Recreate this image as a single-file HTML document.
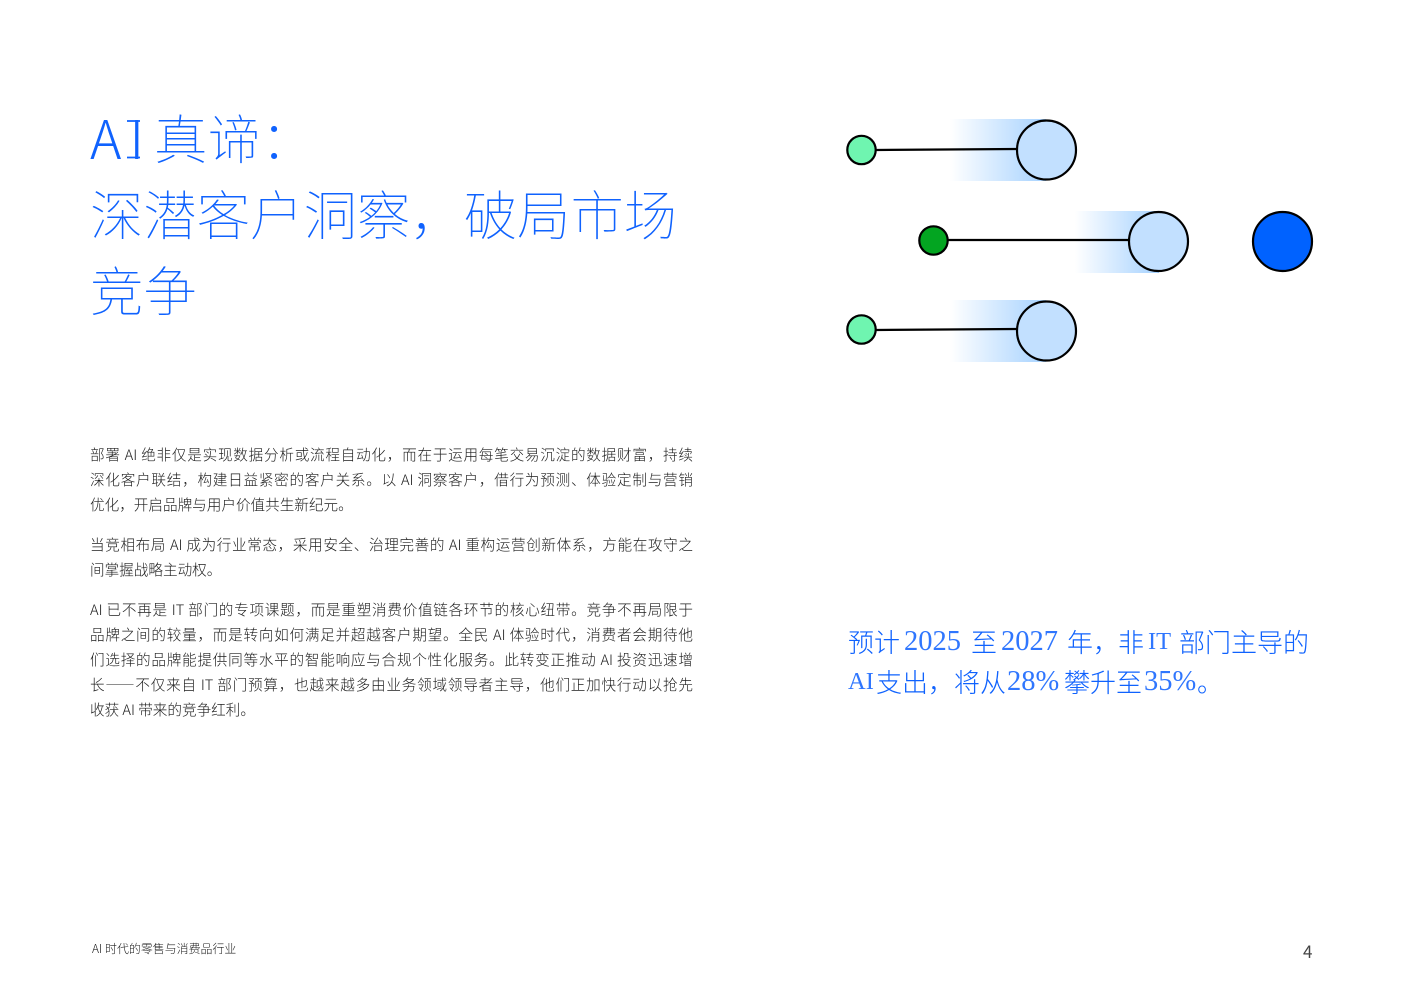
<!DOCTYPE html>
<html lang="zh"><head><meta charset="utf-8">
<style>
html,body{margin:0;padding:0;background:#fff}
#p{position:relative;width:1403px;height:992px;overflow:hidden;background:#fff;font-family:"Noto Sans CJK SC","Liberation Sans",sans-serif}
.t{position:absolute;left:90px;font-size:53.4px;line-height:76px;height:76px;color:#0f62fe;font-weight:100;white-space:nowrap}
.b{position:absolute;left:90px;width:603px;font-size:14.6px;line-height:25px;height:25px;color:#1c1c1c;font-weight:300;white-space:nowrap;text-align:justify;text-align-last:justify}
.l{text-align-last:left}
.c{position:absolute;font-size:26px;line-height:40px;height:40px;color:#0f62fe;font-weight:300;white-space:nowrap}
.s{font-family:"Liberation Serif",serif;font-weight:400;color:#2f76fe;font-size:24.500px}
.n{font-size:28.500px}
svg{position:absolute;left:0;top:0}
</style></head><body><div id="p">
<svg width="1403" height="992" viewBox="0 0 1403 992">
<defs><linearGradient id="g" x1="0" x2="1" y1="0" y2="0"><stop offset="0" stop-color="#fff"/><stop offset="1" stop-color="#a6d2ff"/></linearGradient></defs>
<rect x="950" y="119" width="96" height="62" fill="url(#g)"/>
<rect x="1075" y="211" width="84" height="62" fill="url(#g)"/>
<rect x="950" y="300" width="96" height="62" fill="url(#g)"/>
<g stroke="#000" stroke-width="2.200" fill="none">
<path d="M876 150L1017 149"/><path d="M948 240H1129"/><path d="M876 330L1017 329"/>
<circle cx="861.500" cy="150" r="14.200" fill="#6ff5b0"/>
<circle cx="1046.500" cy="150" r="29.500" fill="#c2e0ff"/>
<circle cx="933.500" cy="240.500" r="14.200" fill="#03a521"/>
<circle cx="1158.500" cy="241.500" r="29.500" fill="#c2e0ff"/>
<circle cx="1282.500" cy="241.500" r="29.500" fill="#0062ff"/>
<circle cx="861.500" cy="329.500" r="14.200" fill="#6ff5b0"/>
<circle cx="1046.500" cy="331" r="29.500" fill="#c2e0ff"/>
</g>
<path d="M127 121H140M127 157.500H140" stroke="#0f62fe" stroke-width="1.800" fill="none"/>
</svg>
<div class="t" style="top:99px;font-weight:300">A</div>
<div class="t" style="top:99px;left:129.500px;font-weight:300">I</div>
<div class="t" style="top:99px;left:154px">真谛：</div>
<div class="t" style="top:175px">深潜客户洞察，破局市场</div>
<div class="t" style="top:251px">竞争</div>
<div class="b" style="top:442px">部署 AI 绝非仅是实现数据分析或流程自动化，而在于运用每笔交易沉淀的数据财富，持续</div>
<div class="b" style="top:467px">深化客户联结，构建日益紧密的客户关系。以 AI 洞察客户，借行为预测、体验定制与营销</div>
<div class="b l" style="top:492px">优化，开启品牌与用户价值共生新纪元。</div>
<div class="b" style="top:532px">当竞相布局 AI 成为行业常态，采用安全、治理完善的 AI 重构运营创新体系，方能在攻守之</div>
<div class="b l" style="top:557px">间掌握战略主动权。</div>
<div class="b" style="top:597px">AI 已不再是 IT 部门的专项课题，而是重塑消费价值链各环节的核心纽带。竞争不再局限于</div>
<div class="b" style="top:622px">品牌之间的较量，而是转向如何满足并超越客户期望。全民 AI 体验时代，消费者会期待他</div>
<div class="b" style="top:647px">们选择的品牌能提供同等水平的智能响应与合规个性化服务。此转变正推动 AI 投资迅速增</div>
<div class="b" style="top:672px">长——不仅来自 IT 部门预算，也越来越多由业务领域领导者主导，他们正加快行动以抢先</div>
<div class="b l" style="top:697px">收获 AI 带来的竞争红利。</div>
<div class="c" style="top:622px;left:848px">预计</div>
<div class="c s n" style="top:622px;left:904px">2025</div>
<div class="c" style="top:622px;left:971px">至</div>
<div class="c s n" style="top:622px;left:1001px">2027</div>
<div class="c" style="top:622px;left:1067px">年，</div>
<div class="c" style="top:622px;left:1118px">非</div>
<div class="c s" style="top:622px;left:1148px">IT</div>
<div class="c" style="top:622px;left:1179px">部门主导的</div>
<div class="c s" style="top:662px;left:848px">AI</div>
<div class="c" style="top:662px;left:876px">支出，将从</div>
<div class="c s n" style="top:662px;left:1007px">28%</div>
<div class="c" style="top:662px;left:1064px">攀升至</div>
<div class="c s n" style="top:662px;left:1144px">35%</div>
<div class="c" style="top:662px;left:1197px">。</div>
<div style="position:absolute;left:92px;top:941px;font-size:11.900px;letter-spacing:.05px;line-height:16px;color:#222;font-weight:300;white-space:nowrap">AI 时代的零售与消费品行业</div>
<div style="position:absolute;left:1303px;top:941px;font-size:17px;line-height:20px;color:#444;white-space:nowrap">4</div>
</div></body></html>
